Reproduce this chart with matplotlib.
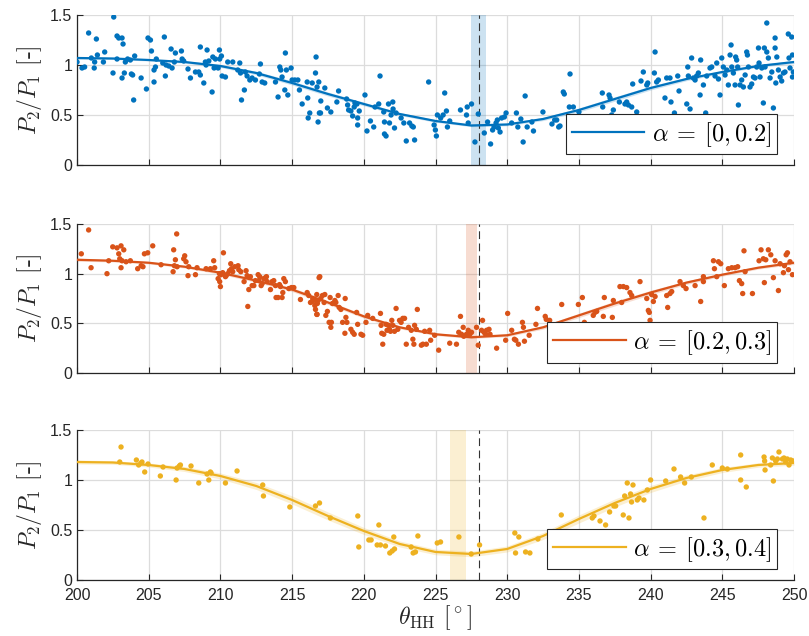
import numpy as np
import matplotlib.pyplot as plt

plt.rcParams['font.family'] = ['Liberation Sans', 'DejaVu Sans']
plt.rcParams['mathtext.fontset'] = 'cm'

# measured power ratio vs. heading angle, three alpha bins
top_theta = [200.0, 200.35, 200.53, 200.81, 201.0, 201.2, 201.23, 201.35, 201.42, 201.84, 201.93,
             202.51, 202.56, 202.79, 202.79, 202.91, 203.14, 203.14, 203.21, 203.3, 203.37, 203.53,
             203.72, 203.79, 203.88, 203.95, 204.02, 204.47, 204.84, 204.95, 205.12, 205.19, 205.37,
             205.37, 205.47, 205.53, 205.98, 206.09, 206.16, 206.21, 206.4, 206.56, 206.63, 206.79,
             206.86, 207.28, 207.33, 207.44, 207.74, 207.91, 208.26, 208.49, 208.6, 208.6, 208.84,
             208.95, 209.0, 209.07, 209.19, 209.42, 209.47, 209.56, 209.65, 209.84, 209.93, 209.95,
             210.07, 210.12, 210.35, 210.51, 210.86, 211.21, 211.35, 211.4, 211.47, 211.67, 211.74,
             211.86, 212.05, 212.21, 212.44, 212.72, 212.79, 212.91, 213.09, 213.84, 214.02, 214.14,
             214.21, 214.3, 214.49, 214.53, 214.6, 214.7, 214.93, 215.0, 215.19, 215.4, 215.51, 215.7,
             216.05, 216.09, 216.12, 216.23, 216.4, 216.63, 216.67, 216.74, 216.81, 216.86, 216.98,
             216.9, 217.0, 217.28, 217.46, 217.7, 218.12, 218.24, 218.8, 218.87, 218.94, 219.1, 219.22,
             219.33, 219.38, 219.52, 219.57, 219.68, 219.57, 220.08, 220.22, 220.46, 220.69, 220.78,
             221.04, 221.13, 221.39, 221.44, 221.44, 221.55, 221.72, 221.79, 221.9, 222.02, 222.04,
             222.14, 222.25, 222.6, 222.79, 222.96, 223.19, 223.35, 223.45, 223.54, 224.52, 224.9,
             224.99, 225.06, 225.13, 225.36, 225.53, 225.64, 225.76, 225.83, 225.99, 226.74, 227.16,
             227.21, 227.28, 227.51, 227.75, 227.98, 228.4, 228.63, 228.84, 228.98, 229.08, 229.22,
             229.31, 229.38, 229.5, 229.61, 229.8, 229.92, 230.31, 230.64, 230.74, 230.95, 231.11,
             231.25, 231.39, 231.72, 231.83, 232.49, 233.12, 233.31, 233.59,
             233.45, 233.68, 233.91, 233.98, 234.38, 234.33, 234.61, 235.0, 236.63, 236.66, 237.1,
             237.17, 237.28, 237.4, 237.82, 238.21, 238.33, 238.45, 238.68, 239.03, 238.75, 239.33,
             239.49, 239.73, 239.8, 240.26, 240.31, 240.42, 240.54, 241.0, 241.12, 241.35, 241.42,
             241.66, 241.89, 241.98, 242.52, 242.59, 242.63, 242.75, 242.86, 242.98, 243.1, 243.21,
             243.33, 243.45, 243.49, 243.68, 243.84, 243.91, 244.14, 244.26, 244.49, 244.61, 244.73,
             244.84, 244.96, 245.07, 245.19, 245.31, 245.42, 245.54, 245.61, 245.66, 245.77, 245.89,
             245.93, 246.0, 246.07, 246.12, 246.24, 246.35, 246.47, 246.59, 246.7, 246.75, 246.82,
             246.93, 247.05, 247.17, 247.28, 247.4, 247.52, 247.56, 247.63, 247.75, 247.86, 247.93,
             247.98, 248.1, 248.21, 248.33, 248.45, 248.56, 248.68, 248.68, 248.73, 248.8, 248.91,
             249.03, 249.14, 249.26, 249.37, 249.6, 249.65, 249.72, 249.84, 249.89, 249.95, 249.89,
             248.1]
top_ratio = [1.03, 0.97, 0.98, 1.32, 1.07, 0.97, 1.03, 1.26, 1.1, 1.03, 1.13,
             0.92, 1.48, 1.29, 1.06, 1.27, 1.27, 0.87, 1.21, 0.92, 1.03, 1.06,
             1.05, 0.91, 0.9, 0.65, 1.09, 0.87, 0.76, 1.27, 1.25, 1.14, 0.83,
             0.95, 0.98, 1.06, 1.02, 1.28, 0.89, 1.0, 0.99, 1.16, 0.97, 1.03,
             1.12, 1.14, 1.06, 1.04, 0.96, 0.87, 0.93, 0.93, 1.18, 0.9, 0.82,
             1.03, 1.0, 1.15, 1.04, 0.73, 1.08, 0.97, 1.06, 0.97, 1.15, 1.06,
             1.09, 0.89, 0.88, 1.03, 1.03, 0.95, 1.02, 0.92, 0.65, 0.75, 0.93,
             0.89, 0.85, 0.87, 0.85, 0.91, 1.01, 0.83, 0.82, 0.83, 0.68, 0.98,
             0.95, 0.88, 0.75, 1.12, 0.95, 0.7, 0.97, 0.85, 0.85, 0.85, 0.75, 0.61,
             0.83, 0.67, 0.47, 0.52, 0.82, 0.92, 1.08, 0.78, 0.43, 0.83, 0.52,
             0.52, 0.64, 0.77, 0.57, 0.53, 0.63, 0.74, 0.66, 0.6, 0.55, 0.54, 0.49,
             0.58, 0.62, 0.61, 0.47, 0.54, 0.4, 0.7, 0.34, 0.44, 0.38, 0.58,
             0.61, 0.89, 0.53, 0.43, 0.31, 0.29, 0.61, 0.42, 0.5, 0.63, 0.56,
             0.37, 0.52, 0.47, 0.42, 0.24, 0.42, 0.39, 0.38, 0.25, 0.83, 0.4,
             0.35, 0.29, 0.5, 0.47, 0.5, 0.72, 0.54, 0.38, 0.44, 0.55, 0.5,
             0.58, 0.42, 0.61, 0.23, 0.51, 0.32, 0.43, 0.21, 0.35, 0.38, 0.42,
             0.45, 0.37, 0.33, 0.47, 0.48, 0.52, 0.42, 0.52, 0.38, 0.46, 0.23,
             0.69, 0.38, 0.43, 0.34, 0.53, 0.41, 0.45, 0.38,
             0.45, 0.39, 0.73, 0.71, 0.91, 0.58, 0.58, 0.53, 0.72, 0.58, 0.7,
             0.67, 0.5, 0.55, 0.63, 0.61, 0.63, 0.6, 0.58, 0.53, 0.81, 0.84,
             0.93, 0.8, 0.82, 0.92, 1.13, 0.83, 0.85, 0.67, 0.87, 0.87, 0.63,
             0.52, 0.89, 0.74, 0.61, 0.98, 0.89, 0.56, 1.07, 0.87, 0.85, 0.89,
             0.92, 0.7, 1.05, 0.8, 0.52, 0.89, 0.97, 0.98, 0.89, 1.02, 0.86,
             0.7, 1.07, 0.98, 0.9, 0.95, 0.8, 1.1, 1.2, 0.98, 0.92, 0.8,
             1.08, 1.05, 0.98, 0.6, 0.8, 0.85, 0.78, 0.9, 1.13, 1.1, 0.98,
             0.78, 0.81, 0.88, 0.87, 0.98, 1.17, 1.02, 0.88, 0.97, 0.62, 1.17,
             0.98, 1.13, 1.07, 0.87, 0.93, 0.57, 1.27, 1.17, 0.82, 1.08, 0.95,
             0.88, 0.84, 0.92, 0.93, 1.31, 1.07, 0.97, 1.28, 1.1, 0.93, 0.88,
             1.42]

mid_theta = [200.3, 200.81, 200.98, 202.09, 202.21, 202.49, 202.79, 202.91, 202.98, 203.07, 203.07,
             203.14, 203.26, 203.42, 203.72, 204.23, 204.47, 204.6, 204.7, 204.93, 205.28, 205.86,
             206.7, 206.74, 206.79, 206.86, 206.95, 206.98, 207.44, 207.51, 207.6, 207.74, 207.79,
             208.26, 208.37, 209.0, 209.3, 209.53, 209.6, 209.84, 209.93, 209.95, 210.0, 210.05,
             210.16, 210.21, 210.35, 210.4, 210.51, 210.63, 210.72, 210.77, 210.86, 211.0, 211.23,
             211.28, 211.42, 211.65, 211.79, 211.86, 211.91, 211.98, 212.09, 212.21, 212.33, 212.44,
             212.63, 212.67, 212.74, 212.84, 212.91, 213.02, 213.14, 213.21, 213.26, 213.49, 213.6,
             213.72, 213.84, 213.88, 214.02, 214.12, 214.19, 214.3, 214.35, 214.42, 214.53, 214.77,
             214.95, 215.12, 215.58, 216.05, 216.16, 216.28, 216.4, 216.44, 216.58, 216.63, 216.74,
             216.81, 216.93,
             216.65, 216.72, 216.76, 216.72, 216.88, 217.0, 217.11, 217.23, 217.28, 217.35, 217.46,
             217.58, 217.65, 217.7, 217.74, 217.81, 217.98, 218.05, 218.21, 218.28, 218.4, 218.52,
             218.68, 218.7, 218.75, 218.82, 219.1, 219.22, 219.33, 219.5, 219.57, 219.8, 219.92,
             220.15, 220.27, 220.62, 221.16, 221.2, 221.25, 221.32, 221.39, 221.55, 221.62, 221.72,
             221.79, 221.86, 221.95, 222.02, 222.14, 222.25, 222.37, 222.49, 222.6, 222.72, 222.84,
             222.96, 223.12, 223.31, 223.42, 223.49, 223.54, 223.66, 223.73, 224.01, 224.12, 224.24,
             224.36, 224.59, 224.66, 224.94, 225.22, 225.99, 226.46, 226.62, 226.74, 226.81, 226.93,
             226.97, 227.16, 227.28, 227.39, 227.51, 227.86, 227.98, 228.21, 228.28, 228.38, 228.49,
             228.56, 228.73, 228.8, 229.26, 229.89, 230.03, 230.31, 230.5, 230.6, 230.78, 231.06,
             231.13, 231.2, 231.53, 232.0, 232.11, 232.65, 232.72, 232.96,
             233.8, 234.96, 235.24, 235.38, 236.0, 236.12, 236.24, 236.7, 236.77, 237.33, 237.4,
             237.86, 237.98, 238.1, 238.33, 238.56, 238.68, 239.26, 239.73, 239.84, 239.91, 239.96,
             240.07, 240.19, 240.31, 241.12, 241.19, 241.35, 241.47, 242.05, 242.28, 242.47, 243.1,
             243.49, 243.68, 243.68, 244.38, 244.45, 244.61, 244.73, 244.89, 245.14, 245.42, 245.66,
             245.89, 246.07, 246.19, 246.35, 246.42, 246.51, 246.59, 247.1, 247.56, 247.7, 247.86,
             247.93, 248.03, 248.21, 248.38, 248.56, 248.68, 248.91, 249.03, 249.26, 249.33, 249.45,
             249.54, 249.61, 249.72, 249.89]
mid_ratio = [1.2, 1.44, 1.06, 1.0, 1.13, 1.27, 1.26, 1.2, 1.15, 1.28, 1.06,
             1.13, 1.24, 1.12, 1.13, 1.05, 1.08, 1.07, 1.2, 1.21, 1.28, 1.09,
             1.02, 1.24, 1.08, 1.14, 1.4, 1.07, 1.15, 1.18, 1.12, 0.98, 1.07,
             0.99, 1.06, 1.05, 1.05, 1.13, 1.06, 0.95, 1.0, 0.92, 0.87, 0.99,
             1.01, 1.21, 0.97, 0.98, 1.0, 1.03, 1.1, 1.05, 1.02, 1.07, 1.08,
             1.04, 1.02, 0.92, 1.03, 0.98, 0.67, 0.84, 0.97, 0.88, 0.88, 0.93,
             0.99, 0.93, 0.97, 0.88, 0.9, 0.95, 0.96, 0.97, 0.92, 0.84, 0.92,
             0.93, 0.88, 0.76, 0.76, 0.89, 0.87, 0.76, 0.81, 0.95, 0.92, 0.85,
             0.86, 0.86, 0.74, 0.81, 0.78, 0.71, 0.72, 0.75, 0.68, 0.64, 0.59,
             0.73, 0.97,
             0.73, 0.79, 0.7, 0.59, 0.96, 0.75, 0.78, 0.71, 0.79, 0.58, 0.62,
             0.51, 0.76, 0.46, 0.51, 0.7, 0.73, 0.71, 0.78, 0.66, 0.64, 0.51,
             0.4, 0.75, 0.56, 0.51, 0.44, 0.41, 0.39, 0.61, 0.49, 0.39, 0.38,
             0.51, 0.58, 0.55, 0.6, 0.48, 0.4, 0.29, 0.39, 0.49, 0.43, 0.48,
             0.44, 0.42, 0.53, 0.48, 0.42, 0.65, 0.44, 0.53, 0.51, 0.55, 0.55,
             0.29, 0.46, 0.43, 0.34, 0.29, 0.48, 0.44, 0.64, 0.28, 0.29, 0.42,
             0.29, 0.43, 0.33, 0.38, 0.23, 0.3, 0.29, 0.41, 0.57, 0.39, 0.46,
             0.37, 0.39, 0.43, 0.39, 0.41, 0.46, 0.28, 0.43, 0.53, 0.41, 0.39,
             0.43, 0.44, 0.39, 0.25, 0.33, 0.6, 0.43, 0.34, 0.33, 0.29, 0.51,
             0.46, 0.32, 0.38, 0.49, 0.65, 0.57, 0.54, 0.53,
             0.69, 0.69, 0.76, 0.51, 0.58, 0.61, 0.62, 0.57, 0.76, 0.56, 0.73,
             0.87, 0.71, 0.87, 0.86, 0.81, 0.78, 0.92, 0.75, 0.63, 0.61, 0.53,
             0.79, 0.72, 0.77, 0.78, 0.66, 0.8, 0.82, 0.92, 0.88, 0.85, 0.88,
             0.72, 0.92, 0.97, 1.13, 1.05, 0.97, 1.12, 1.1, 0.88, 1.05, 1.06,
             1.06, 1.07, 0.93, 0.9, 0.8, 1.23, 1.02, 0.8, 1.13, 1.24, 1.15,
             0.91, 1.14, 1.24, 1.19, 0.96, 1.13, 0.83, 1.1, 1.01, 1.08, 1.19,
             1.21, 1.04, 1.12, 0.99]

bot_theta = [202.98, 203.07, 204.14, 204.3, 204.47, 204.53, 204.72, 204.95, 205.81, 206.0, 206.91,
             206.98, 207.14, 207.21, 207.95, 208.49, 209.07, 209.19, 209.3, 209.35, 210.35, 211.16,
             212.95, 213.0, 214.84, 216.63, 216.91, 217.67, 219.58, 219.65, 220.35, 220.51, 220.93,
             221.05, 221.16, 221.51, 221.81, 221.98, 222.09, 222.14, 223.3, 223.44, 223.6, 223.77,
             225.12, 225.35, 226.63, 227.49, 228.07, 230.53, 230.58, 230.81, 231.28, 231.58, 232.14,
             233.77, 235.93, 236.05, 236.47, 236.86, 237.14, 237.44, 237.56, 238.09, 238.19, 238.37,
             238.49, 238.6, 238.67, 238.77, 239.07, 239.19, 239.53, 239.77, 240.0, 241.05, 241.63,
             242.09, 242.37, 242.84, 243.72, 244.3, 245.0, 245.35, 246.28, 246.28, 246.67, 247.91,
             247.95, 247.98, 248.37, 248.49, 248.56, 248.72, 248.84, 248.95, 249.19, 249.3, 249.42,
             249.53, 249.65, 249.77, 249.95]
bot_ratio = [1.18, 1.33, 1.2, 1.15, 1.17, 1.18, 1.08, 1.16, 1.04, 1.13, 1.0,
             1.12, 1.14, 1.15, 1.14, 0.97, 1.06, 1.0, 1.08, 1.07, 0.97, 1.09,
             0.95, 0.84, 0.73, 0.74, 0.77, 0.62, 0.64, 0.33, 0.4, 0.4, 0.35,
             0.55, 0.35, 0.34, 0.27, 0.29, 0.43, 0.31, 0.33, 0.27, 0.28, 0.44,
             0.37, 0.38, 0.43, 0.26, 0.35, 0.47, 0.27, 0.43, 0.28, 0.27, 0.41,
             0.65, 0.62, 0.64, 0.59, 0.55, 0.68, 0.74, 0.74, 0.65, 0.84, 0.97,
             0.62, 0.86, 0.78, 0.95, 0.8, 0.82, 0.8, 0.9, 1.0, 0.99, 1.11,
             1.03, 0.97, 1.03, 0.62, 1.15, 1.12, 1.11, 1.25, 1.0, 0.93, 1.23,
             1.19, 1.1, 1.15, 1.22, 0.99, 1.19, 1.21, 1.28, 1.21, 1.22, 1.18,
             1.21, 1.15, 1.2, 1.19]

# fitted curves with their confidence half-widths
fit_theta = [200, 202.5, 205, 207.5, 210, 212.5, 215, 217.5, 220, 222.5, 225,
             227.5, 230, 232.5, 235, 237.5, 240, 242.5, 245, 247.5, 250]
top_fit = [1.07, 1.065, 1.05, 1.03, 0.99, 0.92, 0.82, 0.71, 0.61, 0.51, 0.44,
           0.395, 0.405, 0.46, 0.55, 0.66, 0.77, 0.86, 0.93, 0.99, 1.03]
mid_fit = [1.14, 1.13, 1.11, 1.07, 1.01, 0.93, 0.84, 0.71, 0.57, 0.46, 0.39,
           0.36, 0.38, 0.46, 0.58, 0.70, 0.81, 0.91, 0.99, 1.06, 1.11]
bot_fit = [1.18, 1.175, 1.15, 1.11, 1.04, 0.94, 0.80, 0.64, 0.49, 0.36, 0.28,
           0.26, 0.31, 0.44, 0.61, 0.77, 0.91, 1.02, 1.10, 1.15, 1.17]
top_ci = [0.012, 0.01, 0.01, 0.012, 0.015, 0.018, 0.02, 0.02, 0.018, 0.015, 0.013,
          0.012, 0.013, 0.016, 0.02, 0.022, 0.02, 0.017, 0.014, 0.013, 0.015]
mid_ci = [0.015, 0.012, 0.012, 0.013, 0.016, 0.018, 0.02, 0.02, 0.018, 0.015, 0.013,
          0.012, 0.014, 0.018, 0.022, 0.024, 0.022, 0.018, 0.015, 0.014, 0.016]
bot_ci = [0.02, 0.018, 0.02, 0.025, 0.03, 0.035, 0.04, 0.04, 0.035, 0.03, 0.028,
          0.028, 0.03, 0.035, 0.04, 0.04, 0.035, 0.03, 0.025, 0.022, 0.022]

# location of the fitted minimum (uncertainty range) and reference heading
min_ranges = [(227.5, 228.5), (227.1, 227.9), (226.0, 227.1)]
theta_ref = 228.0
labels = [r'$\alpha\:=\:[0, 0.2]$', r'$\alpha\:=\:[0.2, 0.3]$', r'$\alpha\:=\:[0.3, 0.4]$']
colors = ['#0072BD', '#D95319', '#EDB120']

panels = [(top_theta, top_ratio, top_fit, top_ci),
          (mid_theta, mid_ratio, mid_fit, mid_ci),
          (bot_theta, bot_ratio, bot_fit, bot_ci)]

fig = plt.figure(figsize=(8.09, 6.36), dpi=100)
boxes = [[0.0952, 0.7406, 0.8863, 0.2358],
         [0.0952, 0.4135, 0.8863, 0.2343],
         [0.0952, 0.0881, 0.8863, 0.2358]]

for i, (th, r, fit, ci) in enumerate(panels):
    ax = fig.add_axes(boxes[i])
    c = colors[i]
    fit = np.array(fit)
    ci = np.array(ci)
    ax.axvspan(*min_ranges[i], color=c, alpha=0.2, lw=0, zorder=1)
    ax.axvline(theta_ref, color='#333333', lw=0.8, ls=(0, (7, 4)), zorder=2)
    ax.scatter(th, r, s=15, color=c, edgecolors='none', zorder=3)
    ax.fill_between(fit_theta, fit - ci, fit + ci, color=c, alpha=0.2, lw=0, zorder=4)
    ax.plot(fit_theta, fit, color=c, lw=1.6, zorder=5, label=labels[i])

    ax.set_xlim(200, 250)
    ax.set_ylim(0, 1.5)
    ax.set_xticks(np.arange(200, 251, 5))
    ax.set_yticks([0, 0.5, 1, 1.5])
    ax.set_yticklabels(['0', '0.5', '1', '1.5'])
    ax.grid(True, color='#dcdcdc', lw=0.9)
    ax.set_axisbelow(True)
    for side in ['top', 'right']:
        ax.spines[side].set_visible(False)
    for side in ['left', 'bottom']:
        ax.spines[side].set_color('#262626')
        ax.spines[side].set_linewidth(0.9)
    ax.tick_params(direction='in', length=4, width=0.8, color='#262626',
                   labelsize=11.5, labelcolor='#262626')
    ax.tick_params(axis='x', pad=6)
    if i < 2:
        ax.tick_params(labelbottom=False)
    ax.set_ylabel('$P_2/P_1$ [-]', family='cmr10', fontsize=17, color='#262626', labelpad=4)

    leg = ax.legend(loc='lower right', bbox_to_anchor=(0.976, 0.07), borderaxespad=0,
                    fontsize=17.5, handlelength=3.0, handletextpad=0.3, fancybox=False,
                    framealpha=1, edgecolor='#262626', borderpad=0.24)
    leg.get_frame().set_linewidth(0.8)
    leg.set_zorder(10)

ax.set_xlabel(r'$\theta_{\mathrm{HH}}$ $[^\circ]$', family='cmr10', fontsize=17,
              color='#262626', labelpad=0)

fig.savefig('out.png', dpi=100)
